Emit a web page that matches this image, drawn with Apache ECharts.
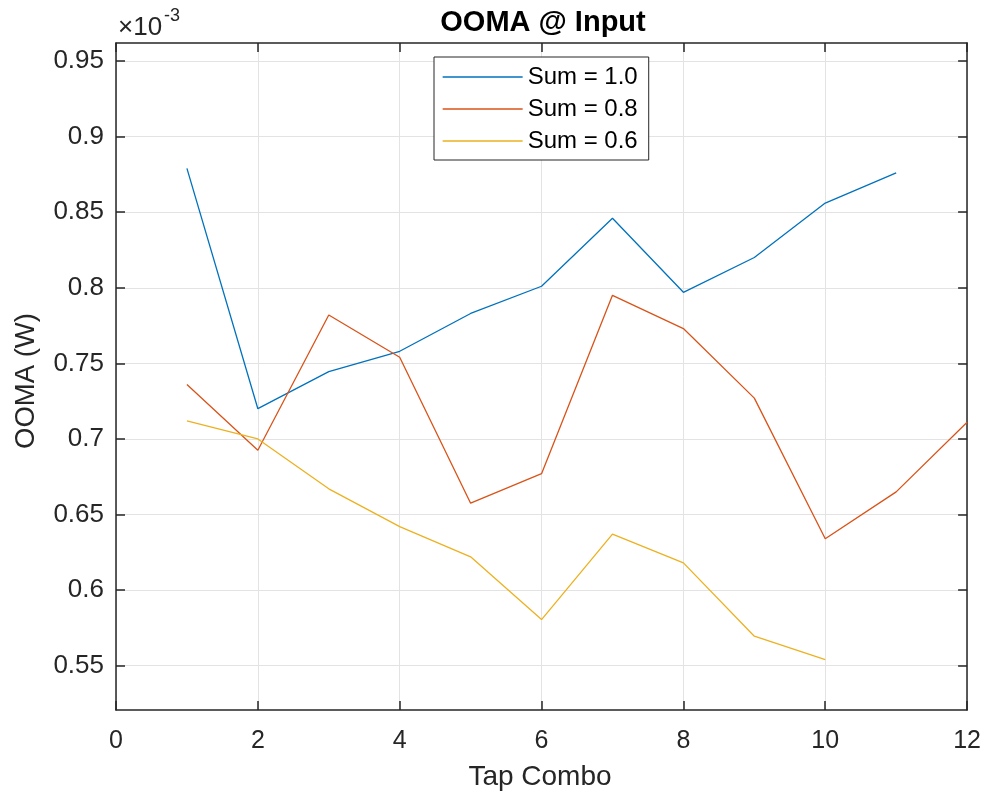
<!DOCTYPE html>
<html>
<head>
<meta charset="utf-8">
<script src="https://cdn.jsdelivr.net/npm/echarts@6/dist/echarts.min.js"></script>
<style>
html,body{margin:0;padding:0;background:#fff;}
#chart{width:984px;height:794px;}
</style>
</head>
<body>
<div id="chart"></div>
<script>
// Values in units of 1e-3 W (axis shows ×10^-3)
const tapCombo = [1, 2, 3, 4, 5, 6, 7, 8, 9, 10, 11, 12];
const sum10 = [0.879, 0.720, 0.7445, 0.758, 0.783, 0.801, 0.846, 0.797, 0.820, 0.856, 0.876];
const sum08 = [0.736, 0.6925, 0.782, 0.754, 0.6575, 0.677, 0.795, 0.773, 0.727, 0.634, 0.665, 0.711];
const sum06 = [0.712, 0.700, 0.667, 0.642, 0.622, 0.5805, 0.637, 0.618, 0.5695, 0.554];
const seriesNames = ['Sum = 1.0', 'Sum = 0.8', 'Sum = 0.6'];
const xTicks = [0, 2, 4, 6, 8, 10, 12];
const yTicks = [0.55, 0.6, 0.65, 0.7, 0.75, 0.8, 0.85, 0.9, 0.95];

const FONT = 'Liberation Sans, Arial, sans-serif';
const TXT = '#262626';
const GRIDC = '#e3e3e3';
const yMin = 0.5207, yMax = 0.9619;

function pairs(ys) { return ys.map((y, i) => [tapCombo[i], y]); }

const chart = echarts.init(document.getElementById('chart'), null, {renderer: 'canvas'});
const axisLine = {show: true, onZero: false, lineStyle: {color: TXT, width: 1.5}};
const tickStyle = {color: TXT, width: 1.5};
chart.setOption({
  backgroundColor: '#fff',
  animation: false,
  grid: {left: 116, right: 16, top: 43, bottom: 84, containLabel: false},
  xAxis: [{
    type: 'value', min: 0, max: 12, position: 'bottom',
    axisLine: axisLine,
    axisTick: {show: true, inside: true, length: 9, lineStyle: tickStyle, customValues: xTicks},
    axisLabel: {color: TXT, fontSize: 25, fontFamily: FONT, margin: 19, customValues: xTicks},
    splitLine: {show: true, lineStyle: {color: GRIDC, width: 1}}
  }, {
    type: 'value', min: 0, max: 12, position: 'top',
    axisLine: axisLine,
    axisTick: {show: true, inside: true, length: 9, lineStyle: tickStyle, customValues: xTicks},
    axisLabel: {show: false, customValues: xTicks}, splitLine: {show: false}
  }],
  yAxis: [{
    type: 'value', min: yMin, max: yMax, position: 'left',
    axisLine: axisLine,
    axisTick: {show: true, inside: true, length: 9, lineStyle: tickStyle, customValues: yTicks},
    axisLabel: {color: TXT, fontSize: 26, fontFamily: FONT, margin: 12, customValues: yTicks,
      formatter: v => String(+v.toFixed(2))},
    splitLine: {show: true, lineStyle: {color: GRIDC, width: 1}}
  }, {
    type: 'value', min: yMin, max: yMax, position: 'right',
    axisLine: axisLine,
    axisTick: {show: true, inside: true, length: 9, lineStyle: tickStyle, customValues: yTicks},
    axisLabel: {show: false, customValues: yTicks}, splitLine: {show: false}
  }],
  legend: {
    orient: 'vertical', left: 434, top: 57,
    padding: [8, 11, 7, 8],
    itemWidth: 80, itemHeight: 24, itemGap: 8,
    borderColor: TXT, borderWidth: 1, backgroundColor: '#fff',
    itemStyle: {opacity: 0},
    lineStyle: {width: 1.3},
    textStyle: {color: '#000', fontSize: 24, fontFamily: FONT},
    data: seriesNames
  },
  series: [
    {name: seriesNames[0], type: 'line', data: pairs(sum10), symbol: 'none', lineStyle: {color: '#0072BD', width: 1.3}, itemStyle: {color: '#0072BD'}},
    {name: seriesNames[1], type: 'line', data: pairs(sum08), symbol: 'none', lineStyle: {color: '#D95319', width: 1.3}, itemStyle: {color: '#D95319'}},
    {name: seriesNames[2], type: 'line', data: pairs(sum06), symbol: 'none', lineStyle: {color: '#EDB120', width: 1.3}, itemStyle: {color: '#EDB120'}}
  ],
  graphic: [
    {type: 'text', style: {text: 'OOMA @ Input', x: 543, y: 23, align: 'center', verticalAlign: 'middle',
      fill: '#000', font: 'bold 29px ' + FONT}},
    {type: 'text', style: {text: 'Tap Combo', x: 540, y: 777.5, align: 'center', verticalAlign: 'middle',
      fill: TXT, font: '28px ' + FONT}},
    {type: 'text', x: 26.5, y: 381, rotation: Math.PI / 2, style: {text: 'OOMA (W)', x: 0, y: 0, align: 'center', verticalAlign: 'middle',
      fill: TXT, font: '27.5px ' + FONT}},
    {type: 'text', style: {text: '×10', x: 118, y: 28, align: 'left', verticalAlign: 'middle', fill: TXT, font: '26px ' + FONT}},
    {type: 'text', style: {text: '-3', x: 164, y: 16, align: 'left', verticalAlign: 'middle', fill: TXT, font: '18px ' + FONT}}
  ]
});
</script>
</body>
</html>
